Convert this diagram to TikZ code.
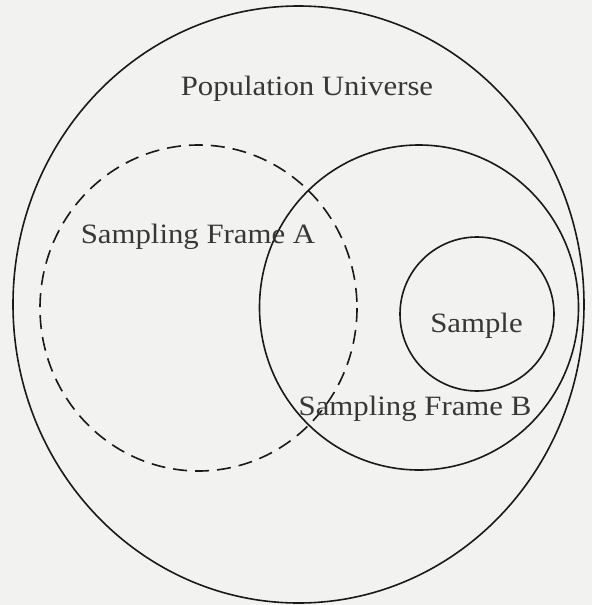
\documentclass[tikz,border=0pt]{standalone}
\usepackage{fontspec}
\setmainfont[FakeStretch=1.1]{Liberation Serif}
\definecolor{bgcol}{RGB}{242,242,240}
\definecolor{linecol}{RGB}{25,25,25}
\definecolor{txtcol}{RGB}{55,55,55}
\begin{document}
\begin{tikzpicture}[x=1pt,y=-1pt,
  outline/.style={draw=linecol,line width=1.6pt},
  dashline/.style={outline,dash pattern=on 14pt off 8pt},
  lbl/.style={anchor=base,inner sep=0pt,text=txtcol,font=\fontsize{28}{31}\selectfont}]
  \fill[bgcol] (0,0) rectangle (592,605);
  \useasboundingbox (0,0) rectangle (592,605);
  % population universe
  \draw[outline] (298.5,304.5) ellipse [x radius=285.5, y radius=298.5];
  % sampling frame A (dashed)
  \draw[dashline] (198.5,308) ellipse [x radius=158.5, y radius=163];
  % sampling frame B
  \draw[outline] (419,307.5) ellipse [x radius=159.5, y radius=162.5];
  % sample
  \draw[outline] (477,314) ellipse [x radius=77, y radius=77];
  \node[lbl] (pop) at (307,95) {Population Universe};
  \node[lbl] (fa) at (198,243) {Sampling Frame A};
  \node[lbl] (smp) at (476.5,332) {Sample};
  \node[lbl] (fb) at (415,415) {Sampling Frame B};
\end{tikzpicture}
\end{document}
